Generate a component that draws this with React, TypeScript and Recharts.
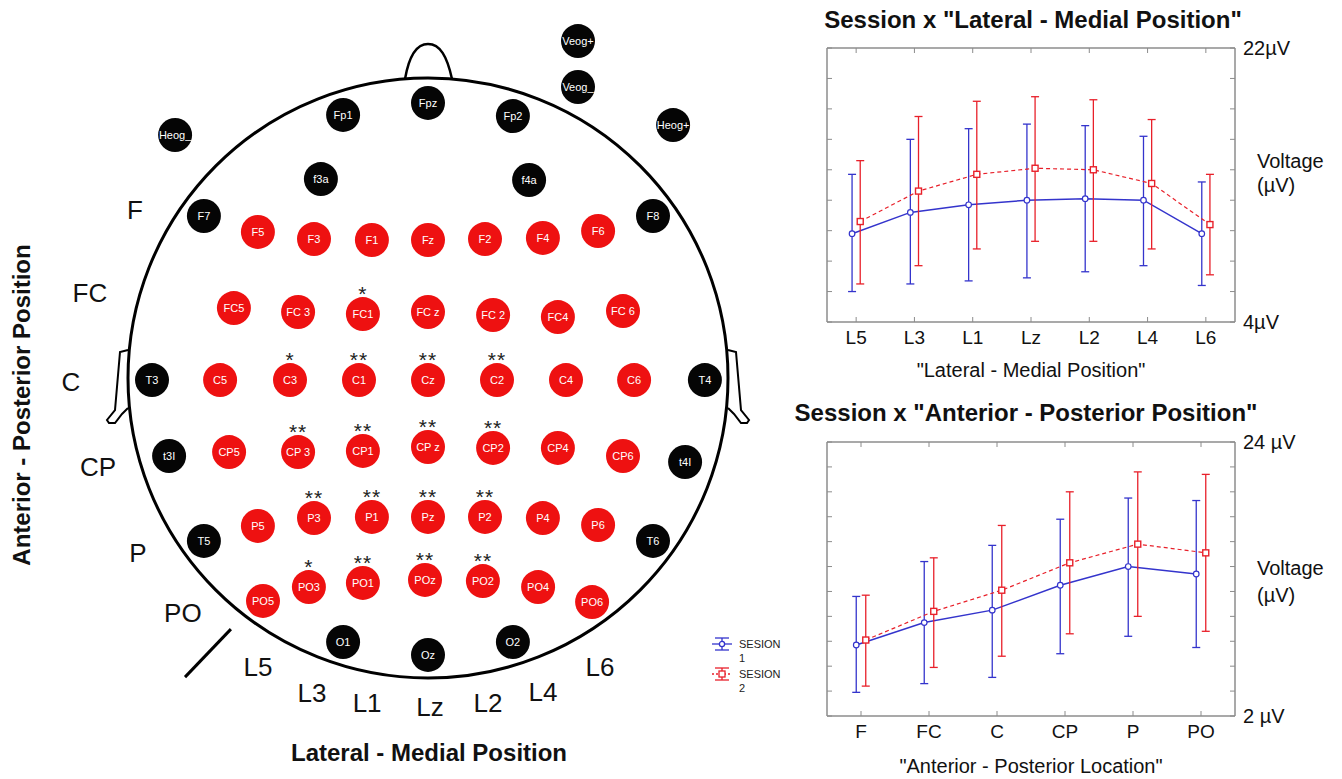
import React from "react";
import {
  ComposedChart,
  ErrorBar,
  Legend,
  Line,
  ReferenceLine,
  Scatter,
  ScatterChart,
  XAxis,
  YAxis,
} from "recharts";

const FONT = "Arial, 'Liberation Sans', Helvetica, sans-serif";
const BLUE = "#3434cc";
const RED = "#e8202a";
const FRAME = "#8c8c8c";
const INK = "#111";

// Session x "Lateral - Medial Position" (µV)
const lmCats = ["L5", "L3", "L1", "Lz", "L2", "L4", "L6"];
const lmS1Mean = [9.8, 11.2, 11.7, 12.0, 12.1, 12.0, 9.8];
const lmS1Low = [6.0, 6.5, 6.7, 6.9, 7.3, 7.7, 6.4];
const lmS1High = [13.7, 16.0, 16.7, 17.0, 16.9, 16.2, 13.2];
const lmS2Mean = [10.6, 12.6, 13.7, 14.1, 14.0, 13.1, 10.4];
const lmS2Low = [6.5, 7.7, 8.8, 9.3, 9.3, 8.8, 7.1];
const lmS2High = [14.6, 17.5, 18.5, 18.8, 18.6, 17.3, 13.7];
const lmTicks = [4, 6, 8, 10, 12, 14, 16, 18, 20, 22];
const lmUnitLabels = ["4µV", "22µV"];

// Session x "Anterior - Posterior Position" (µV)
const apCats = ["F", "FC", "C", "CP", "P", "PO"];
const apS1Mean = [7.7, 9.5, 10.5, 12.5, 14.0, 13.4];
const apS1Low = [3.9, 4.6, 5.1, 7.0, 8.4, 7.5];
const apS1High = [11.6, 14.4, 15.7, 17.8, 19.5, 19.3];
const apS2Mean = [8.1, 10.4, 12.1, 14.3, 15.8, 15.1];
const apS2Low = [4.4, 5.9, 6.8, 8.6, 10.0, 8.8];
const apS2High = [11.7, 14.7, 17.3, 20.0, 21.6, 21.4];
const apTicks = [2, 4, 6, 8, 10, 12, 14, 16, 18, 20, 22, 24];
const apUnitLabels = ["2 µV", "24 µV"];

const sessions = ["SESION 1", "SESION 2"];

// electrode map, head radius = 100
type Site = [string, number, number];
const otherSites: Site[] = [
  ["Veog+", 50, 112.3], ["Veog_", 50, 97], ["Heog_", -84.3, 81], ["Heog+", 81.7, 84.3],
  ["Fp1", -28.3, 87.7], ["Fpz", 0, 91.7], ["Fp2", 28.3, 87.3],
  ["f3a", -35.7, 66.3], ["f4a", 33.7, 66], ["F7", -74.7, 54], ["F8", 75, 54],
  ["T3", -92, -0.7], ["T4", 92.3, -0.7], ["t3l", -86.3, -26], ["t4l", 85.7, -28],
  ["T5", -74.7, -54.3], ["T6", 75, -54.3], ["O1", -28.3, -88], ["Oz", 0, -92.3], ["O2", 28.3, -88],
];
const analysedSites: Site[] = [
  ["F5", -56.7, 48.7], ["F3", -38, 46.3], ["F1", -18.7, 46], ["Fz", 0, 46], ["F2", 19, 46.3], ["F4", 38.3, 46.7], ["F6", 56.7, 49],
  ["FC5", -64.7, 23.3], ["FC3", -43.3, 22], ["FC1", -21.7, 21.3], ["FCz", 0, 22], ["FC2", 21.7, 21], ["FC4", 43.3, 20.3], ["FC6", 65, 22.3],
  ["C5", -69.3, -0.7], ["C3", -46, -0.7], ["C1", -23, -0.7], ["Cz", 0, -0.7], ["C2", 23, -0.7], ["C4", 46, -0.7], ["C6", 68.7, -0.7],
  ["CP5", -66.3, -24.7], ["CP3", -43.3, -24.7], ["CP1", -21.7, -24.3], ["CPz", 0, -23], ["CP2", 21.7, -23.3], ["CP4", 43.3, -23.3], ["CP6", 65, -26],
  ["P5", -56.7, -49.3], ["P3", -38, -46.7], ["P1", -18.7, -46.3], ["Pz", 0, -46.3], ["P2", 19, -46.3], ["P4", 38.3, -46.7], ["P6", 56.7, -49],
  ["PO5", -55, -74.3], ["PO3", -39.7, -69.7], ["PO1", -21.7, -68.3], ["POz", -1, -67.3], ["PO2", 18.3, -67.7], ["PO4", 36.7, -69.7], ["PO6", 54.7, -74.7],
];
const oneStar = ["FC1", "C3", "PO3"];
const twoStars = ["C1", "Cz", "C2", "CP3", "CP1", "CPz", "CP2", "P3", "P1", "Pz", "P2", "PO1", "POz", "PO2"];
const siteText: Record<string, string> = {
  FC3: "FC 3", FCz: "FC z", FC2: "FC 2", FC6: "FC 6", CP3: "CP 3", CPz: "CP z", t3l: "t3I", t4l: "t4I",
};

const apRows = ["F", "FC", "C", "CP", "P", "PO"];
const apRowAt = [[-97.7, 56], [-112.7, 28.3], [-119, -1.3], [-110, -29.7], [-96.7, -58.3], [-81.7, -78.3]];
const lmCols = ["L5", "L3", "L1", "Lz", "L2", "L4", "L6"];
const lmColAt = [[-56.7, -96.3], [-38.7, -105], [-20.3, -108.3], [0.7, -109.7], [20, -108.3], [38.3, -104.7], [57.3, -96.3]];

const toSeries = (mean: number[], low: number[], high: number[], shift: number) =>
  mean.map((m, i) => ({
    x: i + shift,
    mean: m,
    err: [+(m - low[i]).toFixed(2), +(high[i] - m).toFixed(2)],
  }));

const toPoints = (sites: Site[]) => sites.map(([name, x, y]) => ({ name, x, y }));
const toLabels = (names: string[], at: number[][]) => names.map((name, i) => ({ name, x: at[i][0], y: at[i][1] }));

const noTickText = () => <g />;

function HeadOutline(props: any) {
  const { cx, cy } = props;
  const R = 300;
  const ear = (s: number) =>
    `M ${cx + s * 300} ${cy - 28} L ${cx + s * 308} ${cy - 26} L ${cx + s * 313} ${cy + 32} L ${cx + s * 321} ${cy + 42} ` +
    `L ${cx + s * 319} ${cy + 45} L ${cx + s * 313} ${cy + 45} L ${cx + s * 306} ${cy + 36} L ${cx + s * 300} ${cy + 30}`;
  return (
    <g fill="none" stroke="#000">
      <circle cx={cx} cy={cy} r={R} strokeWidth={3} />
      <path
        d={`M ${cx - 23} ${cy - 299} C ${cx - 19} ${cy - 322} ${cx - 12} ${cy - 334} ${cx} ${cy - 334} C ${cx + 12} ${cy - 334} ${cx + 19} ${cy - 322} ${cx + 24} ${cy - 299}`}
        strokeWidth={2.5}
      />
      <path d={ear(-1)} strokeWidth={2} />
      <path d={ear(1)} strokeWidth={2} />
    </g>
  );
}

function Electrode(props: any, fill: string) {
  const { cx, cy, payload } = props;
  const name: string = payload.name;
  const stars = twoStars.includes(name) ? "**" : oneStar.includes(name) ? "*" : "";
  return (
    <g>
      <circle cx={cx} cy={cy} r={17} fill={fill} />
      <text x={cx} y={cy} dy="0.35em" textAnchor="middle" fill="#fff" fontSize={11} fontFamily={FONT}>
        {siteText[name] ?? name}
      </text>
      {stars && (
        <text x={cx} y={cy - 13} textAnchor="middle" fill="#222" fontSize={21} letterSpacing={1} fontFamily={FONT}>
          {stars}
        </text>
      )}
    </g>
  );
}

function MapLabel(props: any) {
  return (
    <text x={props.cx} y={props.cy} dy="0.36em" textAnchor="middle" fill={INK} fontSize={26} fontFamily={FONT}>
      {props.payload.name}
    </text>
  );
}

function HeadMap() {
  return (
    <ScatterChart width={780} height={780} margin={{ top: 0, right: 0, bottom: 0, left: 0 }}>
      <XAxis type="number" dataKey="x" domain={[-143, 117]} hide allowDataOverflow />
      <YAxis type="number" dataKey="y" domain={[-134, 126]} hide allowDataOverflow />
      <Scatter data={[{ x: 0, y: 0 }]} shape={HeadOutline} isAnimationActive={false} />
      <ReferenceLine segment={[{ x: -81, y: -99.7 }, { x: -65.7, y: -83.7 }]} stroke="#000" strokeWidth={3} />
      <Scatter data={toPoints(otherSites)} shape={(p: any) => Electrode(p, "#050505")} isAnimationActive={false} />
      <Scatter data={toPoints(analysedSites)} shape={(p: any) => Electrode(p, "#ee1111")} isAnimationActive={false} />
      <Scatter data={toLabels(apRows, apRowAt)} shape={MapLabel} isAnimationActive={false} />
      <Scatter data={toLabels(lmCols, lmColAt)} shape={MapLabel} isAnimationActive={false} />
    </ScatterChart>
  );
}

function LegendIcon({ color, dashed, square }: { color: string; dashed: boolean; square: boolean }) {
  return (
    <svg width={20} height={14} style={{ display: "block" }}>
      <g stroke={color} strokeWidth={1.3} fill="none">
        <line x1={3} y1={1} x2={17} y2={1} />
        <line x1={3} y1={13} x2={17} y2={13} />
        <line x1={10} y1={1} x2={10} y2={13} />
        <line x1={0} y1={7} x2={20} y2={7} strokeDasharray={dashed ? "2 2" : undefined} />
        {square ? (
          <rect x={7} y={4} width={6} height={6} fill="#fff" />
        ) : (
          <circle cx={10} cy={7} r={2.6} fill="#fff" />
        )}
      </g>
    </svg>
  );
}

function SessionLegend() {
  const items = [
    { name: sessions[0], color: BLUE, dashed: false, square: false },
    { name: sessions[1], color: RED, dashed: true, square: true },
  ];
  return (
    <div style={{ fontFamily: FONT, fontSize: 11, lineHeight: "14px", color: "#222" }}>
      {items.map((it) => (
        <div key={it.name} style={{ display: "flex", alignItems: "flex-start", height: 30 }}>
          <LegendIcon color={it.color} dashed={it.dashed} square={it.square} />
          <div style={{ width: 44, marginLeft: 7 }}>{it.name}</div>
        </div>
      ))}
    </div>
  );
}

type PanelProps = {
  cats: string[];
  s1: ReturnType<typeof toSeries>;
  s2: ReturnType<typeof toSeries>;
  ticks: number[];
  unitLabels: string[];
  xTitle: string;
  width: number;
  height: number;
  margin: { top: number; right: number; bottom: number; left: number };
  xAxisHeight: number;
  titleOffset: number;
  voltDy: [number, number];
  withLegend?: boolean;
};

function SessionPanel(p: PanelProps) {
  const n = p.cats.length;
  const xDomain = [-0.5, n - 0.5];
  const idx = p.cats.map((_, i) => i);
  const yDomain = [p.ticks[0], p.ticks[p.ticks.length - 1]];
  const voltage = (lp: any) => {
    const vb = lp.viewBox;
    const x = vb.x + 22;
    const mid = vb.y + vb.height / 2;
    return (
      <text fill={INK} fontSize={20} fontFamily={FONT}>
        <tspan x={x} y={mid + p.voltDy[0]}>Voltage</tspan>
        <tspan x={x} y={mid + p.voltDy[1]}>(µV)</tspan>
      </text>
    );
  };
  return (
    <ComposedChart width={p.width} height={p.height} margin={p.margin}>
      <XAxis
        xAxisId="cat"
        dataKey="x"
        type="number"
        domain={xDomain}
        ticks={idx}
        interval={0}
        allowDataOverflow
        tickFormatter={(v) => p.cats[v] ?? ""}
        tickLine={false}
        tickSize={0}
        tickMargin={9}
        axisLine={{ stroke: FRAME, strokeWidth: 1.5 }}
        height={p.xAxisHeight}
        tick={{ fill: INK, fontSize: 19, fontFamily: FONT }}
        label={{ value: p.xTitle, position: "insideBottom", offset: p.titleOffset, fill: INK, fontSize: 20, fontFamily: FONT }}
      />
      <XAxis
        xAxisId="inner"
        dataKey="x"
        type="number"
        domain={xDomain}
        ticks={idx}
        interval={0}
        allowDataOverflow
        mirror
        tick={noTickText}
        tickSize={5}
        tickLine={{ stroke: FRAME }}
        axisLine={false}
        height={5}
      />
      <XAxis
        xAxisId="top"
        orientation="top"
        dataKey="x"
        type="number"
        domain={xDomain}
        ticks={idx}
        interval={0}
        allowDataOverflow
        mirror
        tick={noTickText}
        tickSize={5}
        tickLine={{ stroke: FRAME }}
        axisLine={{ stroke: FRAME, strokeWidth: 1.5 }}
        height={5}
      />
      <YAxis
        yAxisId="v"
        type="number"
        domain={yDomain}
        ticks={p.ticks}
        interval={0}
        allowDataOverflow
        mirror
        tick={noTickText}
        tickSize={5}
        tickLine={{ stroke: FRAME }}
        axisLine={{ stroke: FRAME, strokeWidth: 1.5 }}
        width={5}
      />
      <YAxis
        yAxisId="vr"
        orientation="right"
        type="number"
        domain={yDomain}
        ticks={p.ticks}
        interval={0}
        allowDataOverflow
        mirror
        tick={noTickText}
        tickSize={5}
        tickLine={{ stroke: FRAME }}
        axisLine={{ stroke: FRAME, strokeWidth: 1.5 }}
        width={5}
      />
      <YAxis
        yAxisId="unit"
        orientation="right"
        type="number"
        domain={yDomain}
        ticks={yDomain}
        interval={0}
        allowDataOverflow
        tickFormatter={(v) => (v === yDomain[0] ? p.unitLabels[0] : p.unitLabels[1])}
        tickLine={false}
        axisLine={false}
        tickSize={0}
        tickMargin={8}
        width={80}
        tick={{ fill: INK, fontSize: 20, fontFamily: FONT, textAnchor: "start" }}
        label={{ content: voltage }}
      />
      <Line
        xAxisId="cat"
        yAxisId="v"
        data={p.s1}
        dataKey="mean"
        name={sessions[0]}
        stroke={BLUE}
        strokeWidth={1.5}
        isAnimationActive={false}
        activeDot={false}
        dot={(d: any) => <circle key={`b${d.index}`} cx={d.cx} cy={d.cy} r={2.8} fill="#fff" stroke={BLUE} strokeWidth={1.2} />}
      >
        <ErrorBar dataKey="err" direction="y" width={4} stroke={BLUE} strokeWidth={1.3} isAnimationActive={false} />
      </Line>
      <Line
        xAxisId="cat"
        yAxisId="v"
        data={p.s2}
        dataKey="mean"
        name={sessions[1]}
        stroke={RED}
        strokeWidth={1.2}
        strokeDasharray="4 3"
        isAnimationActive={false}
        activeDot={false}
        dot={(d: any) => (
          <rect key={`r${d.index}`} x={d.cx - 3} y={d.cy - 3} width={6} height={6} fill="#fff" stroke={RED} strokeWidth={1.4} />
        )}
      >
        <ErrorBar dataKey="err" direction="y" width={4} stroke={RED} strokeWidth={1.3} isAnimationActive={false} />
      </Line>
      {p.withLegend && (
        <Legend
          layout="vertical"
          align="center"
          verticalAlign="middle"
          wrapperStyle={{ left: 12, top: 242, width: 100 }}
          content={() => <SessionLegend />}
        />
      )}
    </ComposedChart>
  );
}

const titleStyle: React.CSSProperties = {
  position: "absolute",
  fontFamily: FONT,
  fontWeight: "bold",
  fontSize: 24,
  color: INK,
  whiteSpace: "nowrap",
  transform: "translate(-50%, -50%)",
  lineHeight: 1,
};

export default function App() {
  const SHIFT = 0.07;
  return (
    <div
      style={{
        position: "absolute",
        left: 0,
        top: 0,
        width: 1342,
        height: 779,
        overflow: "hidden",
        background: "#fff",
        fontFamily: FONT,
      }}
    >
      <div style={{ position: "absolute", left: -1, top: 0 }}>
        <HeadMap />
      </div>
      <div style={{ ...titleStyle, left: 22, top: 405, transform: "translate(-50%, -50%) rotate(-90deg)" }}>
        Anterior - Posterior Position
      </div>
      <div style={{ ...titleStyle, left: 429, top: 753 }}>Lateral - Medial Position</div>

      <div style={{ ...titleStyle, left: 1033, top: 20 }}>Session x "Lateral - Medial Position"</div>
      <div style={{ position: "absolute", left: 790, top: 0 }}>
        <SessionPanel
          cats={lmCats}
          s1={toSeries(lmS1Mean, lmS1Low, lmS1High, -SHIFT)}
          s2={toSeries(lmS2Mean, lmS2Low, lmS2High, SHIFT)}
          ticks={lmTicks}
          unitLabels={lmUnitLabels}
          xTitle={'"Lateral - Medial Position"'}
          width={552}
          height={390}
          margin={{ top: 48, right: 27, bottom: 0, left: 37 }}
          xAxisHeight={68}
          titleOffset={13}
          voltDy={[-17, 7]}
        />
      </div>

      <div style={{ ...titleStyle, left: 1026, top: 413 }}>Session x "Anterior - Posterior Position"</div>
      <div style={{ position: "absolute", left: 700, top: 395 }}>
        <SessionPanel
          cats={apCats}
          s1={toSeries(apS1Mean, apS1Low, apS1High, -SHIFT)}
          s2={toSeries(apS2Mean, apS2Low, apS2High, SHIFT)}
          ticks={apTicks}
          unitLabels={apUnitLabels}
          xTitle={'"Anterior - Posterior Location"'}
          width={642}
          height={384}
          margin={{ top: 47, right: 27, bottom: 0, left: 127 }}
          xAxisHeight={63}
          titleOffset={6}
          voltDy={[-4, 23]}
          withLegend
        />
      </div>
    </div>
  );
}
